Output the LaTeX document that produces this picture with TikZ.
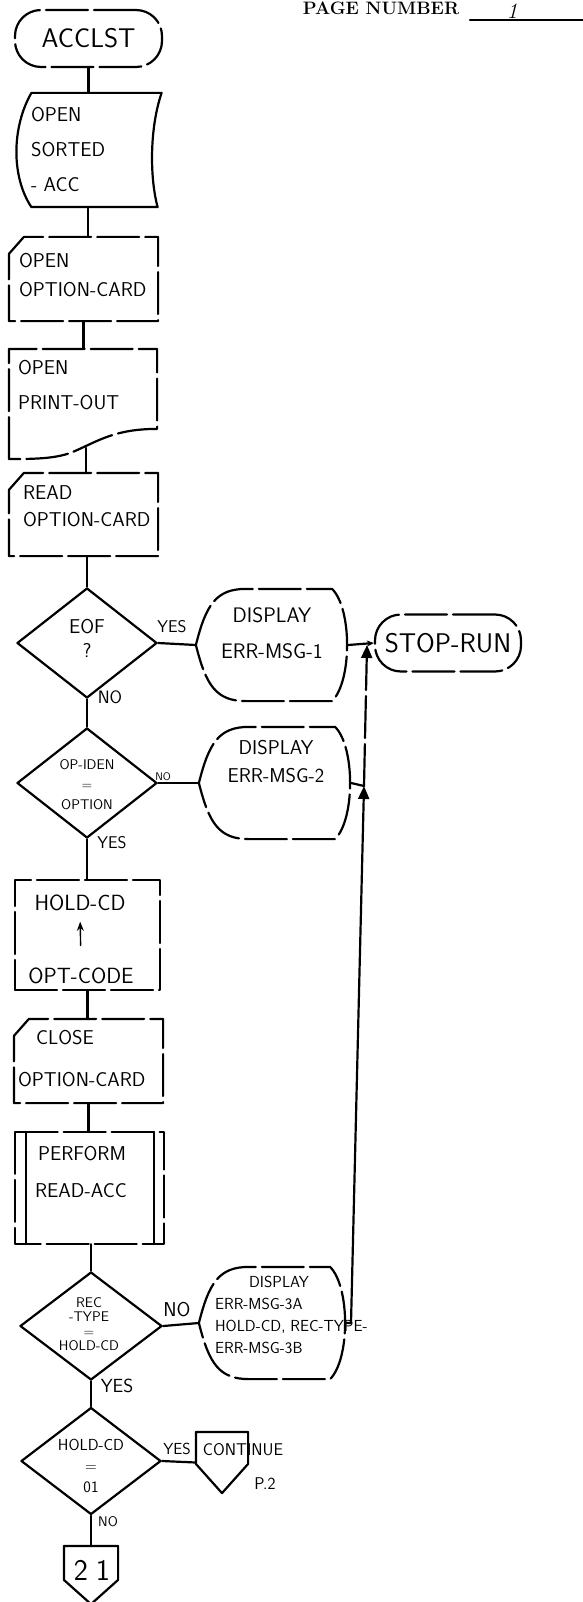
\documentclass[tikz,border=0pt]{standalone}
\usepackage{fontspec}
\usetikzlibrary{calc,arrows.meta,positioning,shapes.geometric}

\begin{document}
\begin{tikzpicture}[x=1pt,y=-1pt,>=Stealth,line join=round,line cap=round,line width=2.2pt,
  frame/.style 2 args={rectangle,inner sep=0pt,minimum width=#1pt,minimum height=#2pt},
  dec/.style 2 args={diamond,draw,inner sep=0pt,minimum width=#1pt,minimum height=#2pt},
  worn/.style={dash pattern=on 42pt off 6pt},
  hand/.style 2 args={inner sep=0pt,align=left,font=\sffamily\fontsize{#1}{#2}\selectfont},
  tag/.style={inner sep=0pt,font=\sffamily\fontsize{#1}{#1}\selectfont},
  tip/.style={-{Triangle[length=13pt,width=11pt]}}]
  \useasboundingbox (0,0) rectangle (583,1602);

  \node[font=\bfseries\fontsize{18}{18}\selectfont,inner sep=0pt,anchor=base] (pagehdr) at (381,15) {PAGE NUMBER};
  \draw (470,20) -- (583,20);
  \node[font=\itshape\fontsize{22}{22}\selectfont,inner sep=0pt,anchor=base] (pagenum) at (512,19) {1};

  \node[frame={147}{57},draw,worn,rounded corners=26pt,tag=27] (acclst) at (88.5,38.5) {ACCLST};

  \node[frame={145}{112}] (tape) at (88,150) {};
  \draw ($(tape.north west)+(17,0)$) -- (tape.north east) .. controls +(-12,35) and +(-8,-30) .. ($(tape.south east)+(-4,0)$)
    -- ($(tape.south west)+(17,0)$) .. controls +(-20,-30) and +(-20,35) .. ($(tape.north west)+(17,0)$);
  \node[hand={20}{35},anchor=west] (tapetxt) at (30,149) {OPEN\\SORTED\\- ACC};

  \node[frame={147}{82}] (optcard) at (83.5,279) {};
  \node[frame={147}{81}] (readcard) at (83.5,514.5) {};
  \node[frame={147}{82}] (closecard) at (88.5,1061) {};
  \foreach \card in {optcard,readcard,closecard}
    \draw[worn] ($(\card.north west)+(0,17)$) -- ($(\card.north west)+(15,0)$) -- (\card.north east)
      -- (\card.south east) -- (\card.south west) -- cycle;
  \node[hand={20}{29},anchor=west] (optcardtxt) at (18,275.5) {OPEN\\OPTION-CARD};
  \node[hand={20}{27},anchor=west] (readcardtxt) at (22,506.5) {READ\\OPTION-CARD};
  \node[hand={20}{42},anchor=west] (closecardtxt) at (17,1059) {\hspace*{18pt}CLOSE\\OPTION-CARD};

  \node[frame={146}{108}] (doc) at (83,404) {};
  \draw[worn] (doc.south west) -- (doc.north west) -- (doc.north east) -- ($(doc.north east)+(0,80)$)
    .. controls +(-45,0) and +(25,-10) .. ($(doc.south)+(-13,-6)$) .. controls +(-15,5) and +(30,0) .. (doc.south west);
  \node[hand={20}{35},anchor=west] (doctxt) at (17,385.5) {OPEN\\PRINT-OUT};
  \coordinate (docfoot) at (86,448);

  \node[dec={140}{110}] (d1) at (87,643) {};
  \node[hand={20}{24},align=center] (d1txt) at (87,638) {EOF\\?};
  \node[dec={140}{110}] (d2) at (87,783) {};
  \node[hand={14}{20},align=center] (d2txt) at (87,785) {OP-IDEN\\=\\OPTION};
  \node[dec={142}{108}] (d3) at (91,1326) {};
  \node[hand={14}{14.5},align=center] (d3txt) at (89,1324) {REC\\-TYPE\\=\\HOLD-CD};
  \node[dec={140}{107}] (d4) at (91,1461) {};
  \node[hand={16}{21},align=center] (d4txt) at (91,1465.5) {HOLD-CD\\=\\01};

  \node[frame={150}{110}] (err1) at (272,645) {};
  \node[frame={150}{110}] (err2) at (275,783) {};
  \node[frame={145}{110}] (err3) at (272.5,1323) {};
  \foreach \disp in {err1,err2,err3}
    \draw[worn] (\disp.west) .. controls +(10,-40) and +(-30,0) .. ($(\disp.north west)+(50,0)$) -- ($(\disp.north east)+(-16,0)$)
      .. controls +(20,20) and +(20,-20) .. ($(\disp.south east)+(-16,0)$) -- ($(\disp.south west)+(50,0)$)
      .. controls +(-30,0) and +(10,40) .. (\disp.west);
  \node[hand={21}{36},align=center] (err1txt) at (272,633) {DISPLAY\\ERR-MSG-1};
  \node[hand={20}{28},align=center] (err2txt) at (276,762) {DISPLAY\\ERR-MSG-2};
  \node[hand={16}{22},anchor=west] (err3txt) at (214,1314.5) {\hspace*{34pt}DISPLAY\\ERR-MSG-3A\\HOLD-CD, REC-TYPE-\\ERR-MSG-3B};

  \node[frame={146}{57},draw,worn,rounded corners=26pt,tag=27] (stop) at (448,643) {STOP-RUN};

  \node[frame={145}{110},draw,worn] (hold) at (87.5,935) {};
  \node[tag=22] (holdcd) at (80,902.5) {HOLD-CD};
  \node[tag=22] (optcode) at (81,975.5) {OPT-CODE};
  \draw[->,line width=1.4pt,shorten <=21pt,shorten >=10pt] (optcode.north) -- (holdcd.south);

  \node[frame={147}{110}] (perf) at (89.5,1188) {};
  \draw[worn] (perf.north west) rectangle (perf.south east);
  \draw ($(perf.north west)+(11,0)$) -- ($(perf.south west)+(11,0)$);
  \draw ($(perf.north east)+(-10,0)$) -- ($(perf.south east)+(-10,0)$);
  \node[hand={20}{37},anchor=west] (perftxt) at (34,1171.5) {\hspace*{3pt}PERFORM\\READ-ACC};

  \node[frame={50}{59}] (cont) at (222,1462.5) {};
  \node[frame={52}{56}] (pg21) at (91,1575) {};
  \foreach \pg/\h in {cont/32,pg21/34}
    \draw ($(\pg.north west)+(0,\h)$) -- (\pg.north west) -- (\pg.north east) -- ($(\pg.north east)+(0,\h)$) -- (\pg.south) -- cycle;
  \node[tag=17] (conttxt) at (243,1450) {CONTINUE};
  \node[tag=17] (contpage) at (265,1484) {P.2};
  \node[tag=30] (pg21txt) at (92,1570) {2\kern8pt1};

  \node[tag=17] (d1yes) at (172,627) {YES};
  \node[tag=18] (d1no) at (110,697) {NO};
  \node[tag=11] (d2no) at (163,777) {NO};
  \node[tag=17] (d2yes) at (112,843) {YES};
  \node[tag=20] (d3no) at (177,1310) {NO};
  \node[tag=19] (d3yes) at (117,1386) {YES};
  \node[tag=16] (d4yes) at (177,1449) {YES};
  \node[tag=14] (d4no) at (108,1522) {NO};

  \draw (acclst.south) -- (acclst.south |- tape.north);
  \draw (tape.south) -- (tape.south |- optcard.north);
  \draw (optcard.south) -- (optcard.south |- doc.north);
  \draw (docfoot) -- (docfoot |- readcard.north);
  \draw (d1.north |- readcard.south) -- (d1.north);
  \draw (d1.south) -- (d2.north);
  \draw (d1.east) -- (err1.west);
  \draw (d2.east) -- (err2.west);
  \draw (d2.south) -- (d2.south |- hold.north);
  \draw (hold.south) -- (hold.south |- closecard.north);
  \draw (closecard.south) -- (closecard.south |- perf.north);
  \draw (d3.north |- perf.south) -- (d3.north);
  \draw (d3.east) -- (err3.west);
  \draw (d3.south) -- (d4.north);
  \draw (d4.east) -- (cont.west);
  \draw (d4.south) -- (pg21.north);
  \draw[-{Stealth[length=7pt,width=6pt]}] (err1.east) -- (stop.west);

  \coordinate (jtop) at (367,645);
  \coordinate (jmid) at (364,786);
  \coordinate (jlow) at (351,1323);
  \draw[tip] (err3.east) -- (jlow) -- (jmid);
  \draw[tip,worn] (jmid) -- (jtop);
  \draw (err2.east) -- (jmid);
\end{tikzpicture}
\end{document}
